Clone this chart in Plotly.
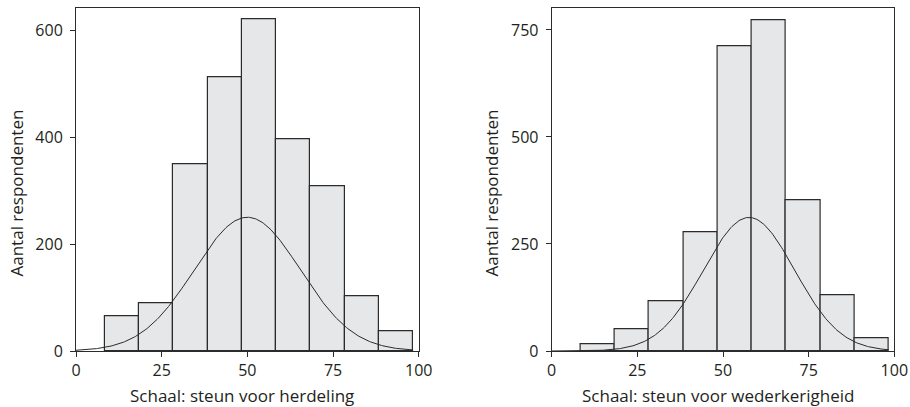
import numpy as np
import plotly.graph_objects as go

# Bin left edges (scale units) and widths
bin_lefts = [8.4, 18.4, 28.4, 38.4, 48.4, 58.4, 68.4, 78.4, 88.4]
bin_width = 10

# Counts per bin
herdeling_counts = [64, 89, 349, 512, 620, 396, 307, 103, 36]
wederkerigheid_counts = [16, 50, 116, 278, 712, 772, 352, 129, 30]

# Fitted normal curve parameters (mean, sd, peak height)
herdeling_fit = dict(mean=50.0, sd=15.5, peak=250)
wederkerigheid_fit = dict(mean=57.6, sd=13.3, peak=312)

x_title_left = "Schaal: steun voor herdeling"
x_title_right = "Schaal: steun voor wederkerigheid"
y_title = "Aantal respondenten"

FONT = "Open Sans"
TXT = "#231f20"
LINE = "#2b2b2b"
FILL = "#e6e7e9"

W, H = 910, 407

centers = [b + bin_width / 2 for b in bin_lefts]
curve_x = np.linspace(0, bin_lefts[-1] + bin_width, 300)


def normal(fit):
    return fit["peak"] * np.exp(-((curve_x - fit["mean"]) ** 2) / (2 * fit["sd"] ** 2))


fig = go.Figure()
for counts, fit, xa, ya in [
    (herdeling_counts, herdeling_fit, "x", "y"),
    (wederkerigheid_counts, wederkerigheid_fit, "x2", "y2"),
]:
    fig.add_trace(go.Bar(x=centers, y=counts, width=bin_width, xaxis=xa, yaxis=ya,
                         marker=dict(color=FILL, line=dict(color=LINE, width=1.2)),
                         showlegend=False, hoverinfo="skip"))
    fig.add_trace(go.Scatter(x=curve_x, y=normal(fit), mode="lines", xaxis=xa, yaxis=ya,
                             line=dict(color=LINE, width=1), showlegend=False, hoverinfo="skip"))

ax_common = dict(showline=True, mirror=True, linecolor=LINE, linewidth=1, automargin=False,
                 ticks="outside", ticklen=5, tickcolor=LINE, showgrid=False, zeroline=False,
                 tickfont=dict(family=FONT, size=16, color=TXT))
title_font = dict(family=FONT, size=17, color=TXT)

ydom = [(H - 351) / H, (H - 8.3) / H]

fig.update_layout(
    width=W, height=H,
    margin=dict(l=0, r=0, t=0, b=0),
    paper_bgcolor="white", plot_bgcolor="white",
    bargap=0,
    xaxis=dict(domain=[76 / W, 418.7 / W], range=[0, 100], tickvals=[0, 25, 50, 75, 100],
               anchor="y", **ax_common),
    yaxis=dict(domain=ydom, range=[0, 640.6], tickvals=[0, 200, 400, 600], anchor="x",
               ticklabelstandoff=4, **ax_common),
    xaxis2=dict(domain=[551.7 / W, 894.3 / W], range=[0, 100], tickvals=[0, 25, 50, 75, 100],
                anchor="y2", **ax_common),
    yaxis2=dict(domain=ydom, range=[0, 800.6], tickvals=[0, 250, 500, 750], anchor="x2",
                ticklabelstandoff=4, **ax_common),
)

# axis titles placed as in the reference
for txt, cx in [(x_title_left, 242), (x_title_right, 718)]:
    fig.add_annotation(text=txt, xref="paper", yref="paper", x=cx / W, y=(H - 395) / H,
                       xanchor="center", yanchor="middle", showarrow=False, font=title_font)
for cx in [16, 491]:
    fig.add_annotation(text=y_title, xref="paper", yref="paper", x=cx / W, y=(H - 193.5) / H,
                       xanchor="center", yanchor="middle", showarrow=False, font=title_font,
                       textangle=-90)

fig.write_html("out.html", config={"displayModeBar": False},
               post_script="document.body.style.margin='0px';document.body.style.overflow='hidden';")
